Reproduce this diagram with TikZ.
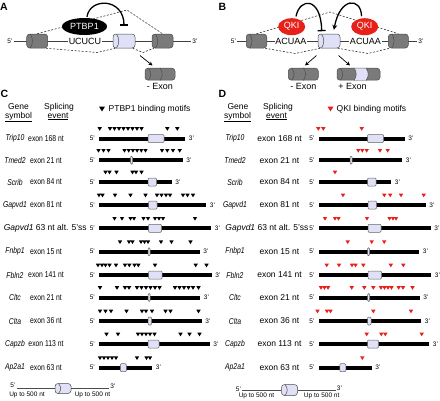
\documentclass[tikz,border=0pt]{standalone}
\usepackage{fontspec}
\setmainfont{Liberation Sans}
\usepackage{graphicx}
\usetikzlibrary{arrows.meta,shapes.geometric}
\definecolor{exgray}{RGB}{122,122,122}
\definecolor{exlav}{RGB}{224,224,246}
\definecolor{qkired}{RGB}{232,32,26}
\newcommand{\sq}[1]{\scalebox{0.8}[1]{#1}}
\tikzset{
  lbl/.style={font=\fontsize{8.5}{10}\selectfont, inner sep=0pt},
  txt/.style={font=\fontsize{9}{10}\selectfont, inner sep=0pt},
  endlbl/.style={font=\fontsize{6.5}{7}\selectfont, inner sep=0.8pt},
  panel/.style={font=\fontsize{10.5}{12}\selectfont\bfseries, inner sep=0pt},
  cyl/.style={draw=black!70, line width=0.5pt, fill=#1, rounded corners=3pt,
    minimum height=14pt, inner sep=0pt,
    path picture={\draw[black!70, line width=0.5pt]
      ([xshift=3.5pt]path picture bounding box.north west) .. controls +(3pt,-4pt) and +(3pt,4pt)
      .. ([xshift=3.5pt]path picture bounding box.south west);}},
  gexon/.style={cyl=exgray},
  lexon/.style={cyl=exlav},
  divider/.style={draw=black!70, line width=0.5pt},
  rexon/.style={fill=exlav, draw=black!60, line width=0.5pt, rounded corners=1pt},
  factor/.style={ellipse, txt, text=white, minimum height=17pt},
  intron/.style={draw=black!75, line width=0.6pt},
  sline/.style={draw=black!70, line width=0.5pt},
  skipline/.style={dashed, dash pattern=on 2pt off 1.6pt, line width=0.55pt, black!85},
  inhib/.style={-{Bar[width=8pt]}, line width=1.3pt},
  act/.style={-{Stealth[length=5pt,width=5pt]}, line width=1.3pt},
  arr/.style={-{Stealth[length=4pt,width=4pt]}, line width=0.7pt},
  motif/.pic={\fill (-2.2,-1.8) -- (2.2,-1.8) -- (0,1.8) -- cycle;}
}
\begin{document}
\begin{tikzpicture}[x=1pt, y=-1pt]
  \useasboundingbox (0,0) rectangle (440,400);
  % A: PTBP1 represses the exon
  \node[panel] (labA) at (4,7) {A};
  \node[endlbl] (p5A) at (10,41) {5'};
  \node[endlbl] (p3A) at (195,41) {3'};
  \draw[intron] (p5A) -- (p3A);
  \node[gexon, minimum width=21pt] (a1) at (37.2,41) {};
  \node[lexon, minimum width=22pt] (a2) at (124,41) {};
  \node[gexon, minimum width=21pt] (a3) at (162.5,41) {};
  \node[txt, fill=white, inner sep=0.6pt] (mA) at (85,41) {UCUCU};
  \coordinate (jA) at (127,10);
  \coordinate (vA1) at (97,52.5);
  \coordinate (vA2) at (143,52.5);
  \draw[skipline] (a1.north) -- (jA) -- (a3.north);
  \draw[skipline] (a1.-40) -- (vA1) -- (a2.-140);
  \draw[skipline] (a2.-40) -- (vA2) -- (a3.-140);
  \node[factor, fill=black, minimum width=45pt] (ptb) at (84.5,26.5) {PTBP1};
  \draw[inhib, shorten >=8pt, shorten <=1pt] (ptb.75) .. controls (90,-3) and (124,-2) .. (a2.north);
  \coordinate (sA) at (140,55.5);
  \coordinate (tA) at (152.5,65.5);
  \draw[arr] (sA) -- (tA);
  \node[gexon, minimum width=30pt, minimum height=12pt] (ra) at (160,74.2) {};
  \draw[divider] (ra.north) .. controls +(3pt,-4pt) and +(3pt,4pt) .. (ra.south);
  \node[txt] (xA) at (160,86) {- Exon};

  % B: QKI represses or activates
  \node[panel] (labB) at (222.5,7) {B};
  \node[endlbl] (p5B) at (233.5,41) {5'};
  \node[endlbl] (p3B) at (421,41) {3'};
  \draw[intron] (p5B) -- (p3B);
  \node[gexon, minimum width=20.5pt] (b1) at (256.5,41) {};
  \node[lexon, minimum width=22pt] (b2) at (329,41) {};
  \node[gexon, minimum width=20pt] (b3) at (398.3,41) {};
  \node[txt, fill=white, inner sep=0.6pt] (mB1) at (291,41) {ACUAA};
  \node[txt, fill=white, inner sep=0.6pt] (mB2) at (365.5,41) {ACUAA};
  \coordinate (jB) at (330,12);
  \coordinate (vB1) at (295,53.5);
  \coordinate (vB2) at (368,53.5);
  \draw[skipline] (b1.north) -- (jB) -- (b3.north);
  \draw[skipline] (b1.-40) -- (vB1) -- (b2.-140);
  \draw[skipline] (b2.-40) -- (vB2) -- (b3.-140);
  \node[factor, fill=qkired, minimum width=27pt] (qk1) at (291.7,26.7) {QKI};
  \node[factor, fill=qkired, minimum width=27pt] (qk2) at (364.7,26.7) {QKI};
  \draw[inhib, shorten >=2.5pt, shorten <=2pt] (qk1.65) .. controls (300,-3) and (321,-3) .. (b2.135);
  \draw[act, shorten >=4pt, shorten <=2pt] (qk2.110) .. controls (361,-3) and (340,-3) .. (b2.60);
  \coordinate (sB1) at (316.5,55.5);
  \coordinate (tB1) at (305,65.5);
  \coordinate (sB2) at (338.5,55.5);
  \coordinate (tB2) at (350,65.5);
  \draw[arr] (sB1) -- (tB1);
  \draw[arr] (sB2) -- (tB2);
  \node[gexon, minimum width=30pt, minimum height=12pt] (rb1) at (303.3,74.2) {};
  \draw[divider] (rb1.north) .. controls +(3pt,-4pt) and +(3pt,4pt) .. (rb1.south);
  \node[txt] (xB1) at (303.3,86) {- Exon};
  \node[gexon, minimum width=43pt, minimum height=12pt] (rb2) at (358.5,74.2) {};
  \fill[exlav] ([xshift=-4.5pt,yshift=-0.3pt]rb2.north) .. controls +(3pt,-4pt) and +(3pt,4pt)
    .. ([xshift=-4.5pt,yshift=0.3pt]rb2.south) -- ([xshift=7.5pt,yshift=0.3pt]rb2.south)
    .. controls +(3pt,4pt) and +(3pt,-4pt) .. ([xshift=7.5pt,yshift=-0.3pt]rb2.north) -- cycle;
  \draw[divider] ([xshift=-4.5pt]rb2.north) .. controls +(3pt,-4pt) and +(3pt,4pt) .. ([xshift=-4.5pt]rb2.south);
  \draw[divider] ([xshift=7.5pt]rb2.north) .. controls +(3pt,-4pt) and +(3pt,4pt) .. ([xshift=7.5pt]rb2.south);
  \node[txt] (xB2) at (352.5,86) {+ Exon};

  % C and D: headers
  \node[panel] (labC) at (4.5,93.5) {C};
  \node[lbl, anchor=base] (hgC) at (18.5,109) {Gene};
  \node[lbl, anchor=base] (hsC) at (59,109) {Splicing};
  \node[lbl, anchor=base] (hyC) at (18.5,118) {\underline{symbol}};
  \node[lbl, anchor=base] (heC) at (58,118) {\underline{event}};
  \pic[scale=1.35] at (102,109) {motif};
  \node[lbl, anchor=west] (legC) at (108.5,109) {PTBP1 binding motifs};
  \node[panel] (labD) at (222.5,93.5) {D};
  \node[lbl, anchor=base] (hgD) at (238,109) {Gene};
  \node[lbl, anchor=base] (hsD) at (278,109) {Splicing};
  \node[lbl, anchor=base] (hyD) at (237.5,118) {\underline{symbol}};
  \node[lbl, anchor=base] (heD) at (276.5,118) {\underline{event}};
  \pic[color=qkired, scale=1.35] at (330.5,109) {motif};
  \node[lbl, anchor=west] (legD) at (336.5,109) {QKI binding motifs};

  % intron/exon maps, same in C and D
  \foreach \y/\be/\ea/\eb [count=\i] in {138.5/185/148/164, 160.3/182.5/130.5/132.5,
      182/171.5/148/156.5, 205/206/148.5/157, 228.3/211/148.5/161.5, 251.7/199.5/148/150,
      275/211.5/148.5/162, 297.5/200/148.2/150.2, 321/201.5/148/151.5, 344/209.5/148/159,
      367.7/152/120.3/126.3}
    \foreach \dx/\p in {0/c, 219.5/d} {
      \fill (99+\dx,\y-2) rectangle (\be+\dx,\y+2);
      \draw[rexon] (\ea+\dx,\y-4) rectangle (\eb+\dx,\y+4);
      \node[endlbl] (f\p\i) at (92.3+\dx,\y) {5'};
      \node[endlbl] (t\p\i) at (\be+\dx+6.5,\y) {3'};
    }
  \foreach \y/\g/\e in {138.5/Trip10/exon 168 nt, 160.3/Tmed2/exon 21 nt, 182/Scrib/exon 84 nt,
      205/Gapvd1/exon 81 nt, 251.7/Fnbp1/exon 15 nt, 275/Fbln2/exon 141 nt, 297.5/Cltc/exon 21 nt,
      321/Clta/exon 36 nt, 344/Capzb/exon 113 nt, 367.7/Ap2a1/exon 63 nt} {
    \node[lbl] (gc-\g) at (15,\y) {\sq{\textit{\g}}};
    \node[lbl] (ec-\g) at (46,\y) {\sq{\e}};
    \node[lbl] (gd-\g) at (235,\y) {\sq{\textit{\g}}};
    \node[lbl] (ed-\g) at (279.5,\y) {\e};
  }
  \node[lbl, anchor=east] (gc-alt) at (86.8,228.3) {\textit{Gapvd1} 63 nt alt. 5'ss};
  \node[lbl, anchor=east] (gd-alt) at (308.5,228.3) {\textit{Gapvd1} 63 nt alt. 5'ss};

  % PTBP1 motifs (C)
  \foreach \y/\ml in {138.5/{99.7,110,114.5,119,123.5,128,132.5,137,141.5,167.3,177.3},
      160.3/{98.5,103.5,108.5,124.5,128.7,132.9,137.1,141.3,145.5,162,167.3,173,179.7},
      182/{105.5,109.5,116.5,132.5,136,141.5},
      205/{99,102.5,115,130.5,145.5,157,161.5,166,170,183,187.5,193},
      228.3/{114.5,122,130.5,134,143.5,148,155,159,163,195},
      251.7/{120,129,132.5,141,144.5,148,161,171.5,190.5},
      275/{98,102,105.5,109.5,116,125,129.3,134.5,138.3,155,195.7,206.5},
      297.5/{100,117,125,129,137,141.5,146,150.5,155,159.5,175,179.5,184,188.5,193,198.5},
      321/{100,105.5,111,126.5,142,146,152,165.5,170.5,198.5},
      344/{106.5,118,138,142,146,150,154.5,180.5,189.5,199.5},
      367.7/{100,104,108,112,116,137,146.5,150}}
    \foreach \x in \ml \pic at (\x,\y-9.5) {motif};
  % QKI motifs (D)
  \foreach \y/\ml in {138.5/{318.3,323.3,361.7}, 160.3/{358.3,362.3,366.7,380,387.7},
      182/{335}, 205/{343,384.3,390.2,401,423.7}, 228.3/{325,335,338.5,367,389.5,393,396},
      251.7/{347.7,371.7,384.2}, 275/{326.7,339,352,355.5,363.3,390.8,403.3},
      297.5/{321,324.5,328,351.7,364.3,373.3,381,384.5,388,391.5,398.7,403,412.5},
      321/{317.5,327,330.5,373.3,411}, 344/{366.7,381.3,385.3,421.7}, 367.7/{362.3}}
    \foreach \x in \ml \pic[color=qkired] at (\x,\y-9.5) {motif};

  % scale bars
  \node[endlbl] (s5C) at (13,385.5) {5'};
  \node[endlbl] (s3C) at (113,386.5) {3'};
  \node[lexon, minimum width=16pt, minimum height=10pt] (sxC) at (63,388.5) {};
  \draw[sline] (s5C.east |- sxC.center) -- (sxC);
  \draw[sline] (sxC) -- (s3C.west |- sxC.center);
  \node[endlbl] (u1C) at (27,394.5) {Up to 500 nt};
  \node[endlbl] (u2C) at (92.5,394.5) {Up to 500 nt};
  \node[endlbl] (s5D) at (238.5,389) {5'};
  \node[endlbl] (s3D) at (339.5,388) {3'};
  \node[lexon, minimum width=16pt, minimum height=11pt] (sxD) at (289.5,390) {};
  \draw[sline] (s5D.east |- sxD.center) -- (sxD);
  \draw[sline] (sxD) -- (s3D.west |- sxD.center);
  \node[endlbl] (u1D) at (256.5,396) {Up to 500 nt};
  \node[endlbl] (u2D) at (321.7,396) {Up to 500 nt};
\end{tikzpicture}
\end{document}
